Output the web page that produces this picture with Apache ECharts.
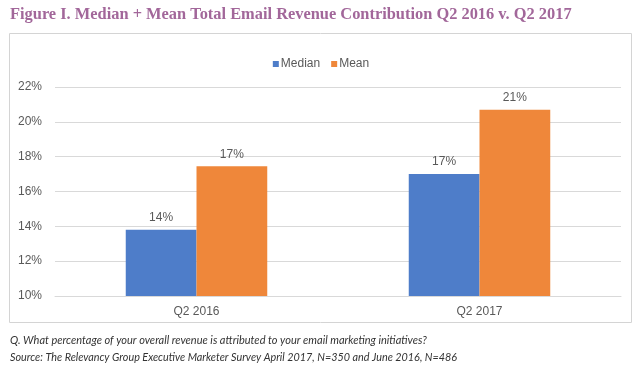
<!DOCTYPE html>
<html><head><meta charset="utf-8">
<script src="https://cdn.jsdelivr.net/npm/echarts@6/dist/echarts.min.js"></script>
<style>html,body{margin:0;padding:0;background:#fff}#c{width:642px;height:370px}</style>
</head><body><div id="c"></div>
<script>
var categories = ['Q2 2016', 'Q2 2017'];
var medianValues = [13.8, 17.0];
var meanValues = [17.45, 20.7];
var seriesNames = ['Median', 'Mean'];
var titleText = 'Figure I. Median + Mean Total Email Revenue Contribution Q2 2016 v. Q2 2017';
var noteLine1 = 'Q. What percentage of your overall revenue is attributed to your email marketing initiatives?';
var noteLine2 = 'Source: The Relevancy Group Executive Marketer Survey April 2017, N=350 and June 2016, N=486';

var chart = echarts.init(document.getElementById('c'), null, {renderer: 'canvas'});
var lbl = {show: true, position: 'top', distance: 6, color: '#595959', fontSize: 12,
  fontFamily: 'Liberation Sans, Arial, sans-serif',
  formatter: function (p) { return Math.round(p.value) + '%'; }};
chart.setOption({
  animation: false,
  graphic: [
    {type: 'text', left: 10, top: 7, style: {text: titleText, fill: '#a2679a', font: 'bold 16.4px "Liberation Serif", serif'}},
    {type: 'rect', shape: {x: 9.5, y: 33.5, width: 622, height: 289},
      style: {fill: 'none', stroke: '#d4d4d4', lineWidth: 1}, z: -1},
    {type: 'text', left: 10, top: 335, style: {text: noteLine1, fill: '#333', font: 'italic 11px Lato, sans-serif'}},
    {type: 'text', left: 10, top: 352, style: {text: noteLine2, fill: '#333', font: 'italic 10.8px Lato, sans-serif'}}
  ],
  legend: {data: seriesNames, top: 53, left: 'center', itemWidth: 6, itemHeight: 6, itemGap: 11,
    icon: 'rect', textStyle: {color: '#595959', fontSize: 12, fontFamily: 'Liberation Sans, Arial, sans-serif', padding: [0, 0, 0, -3]}},
  grid: {left: 55, right: 21, top: 87, bottom: 74},
  xAxis: {type: 'category', data: categories,
    axisLine: {show: true, lineStyle: {color: '#d9d9d9'}}, axisTick: {show: false},
    axisLabel: {color: '#595959', fontSize: 12, margin: 10, fontFamily: 'Liberation Sans, Arial, sans-serif'}},
  yAxis: {type: 'value', min: 10, max: 22, interval: 2,
    axisLine: {show: false}, axisTick: {show: false},
    splitLine: {lineStyle: {color: '#d9d9d9'}},
    axisLabel: {color: '#595959', fontSize: 12, margin: 13, fontFamily: 'Liberation Sans, Arial, sans-serif',
      formatter: function (v) { return v + '%'; }}},
  series: [
    {name: seriesNames[0], type: 'bar', data: medianValues, barGap: '0%', barCategoryGap: '50%',
      itemStyle: {color: '#4e7dc9'}, label: lbl},
    {name: seriesNames[1], type: 'bar', data: meanValues,
      itemStyle: {color: '#ef873a'}, label: lbl}
  ]
});
</script></body></html>
